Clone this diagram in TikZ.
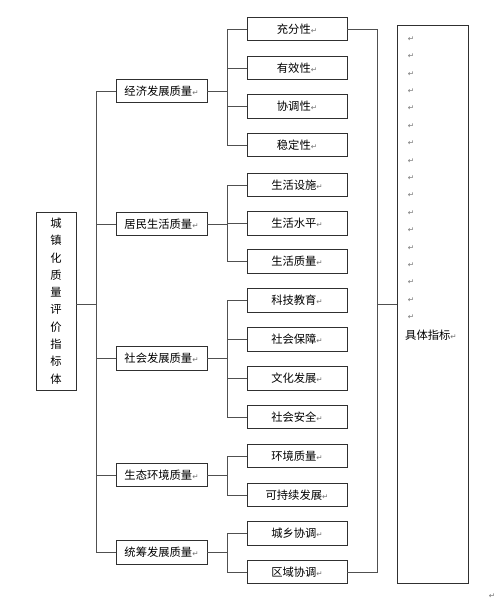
\documentclass[tikz,border=0pt]{standalone}
\usepackage{fontspec}
\newfontfamily\cjk{Noto Sans CJK SC}
\newfontfamily\dvs{DejaVu Sans}
\newcommand{\pmk}{{\dvs\fontsize{7.5}{7.5}\selectfont\textcolor{black!55}{↵}}}
\definecolor{ln}{HTML}{505050}
\definecolor{bx}{HTML}{303030}
\tikzset{
  box/.style={draw=bx, line width=0.9pt, fill=white, inner sep=0pt, font=\cjk\fontsize{11.3}{13}\selectfont},
  leaf/.style={box, minimum width=100pt, minimum height=23.5pt},
  mid/.style={box, minimum width=91pt, minimum height=23.5pt},
  conn/.style={draw=ln, line width=0.9pt},
  pm/.style={inner sep=0pt}
}
\begin{document}
\begin{tikzpicture}[x=1pt,y=-1pt]
\useasboundingbox (0,0) rectangle (502,600);
% root
\node[box, minimum width=40pt, minimum height=178pt, align=center, font=\cjk\fontsize{11.3}{17.3}\selectfont] (root) at (56,301)
  {城\\镇\\化\\质\\量\\评\\价\\指\\标\\体};
% mid boxes
\node[mid] (m1) at (161.5,91) {经济发展质量\pmk};
\node[mid] (m2) at (161.5,224) {居民生活质量\pmk};
\node[mid] (m3) at (161.5,358.5) {社会发展质量\pmk};
\node[mid] (m4) at (161.5,475) {生态环境质量\pmk};
\node[mid] (m5) at (161.5,552.5) {统筹发展质量\pmk};
% leaves
\node[leaf] (a1) at (297,29) {充分性\pmk};
\node[leaf] (a2) at (297,68) {有效性\pmk};
\node[leaf] (a3) at (297,106.5) {协调性\pmk};
\node[leaf] (a4) at (297,145) {稳定性\pmk};
\node[leaf] (a5) at (297,185) {生活设施\pmk};
\node[leaf] (a6) at (297,223.5) {生活水平\pmk};
\node[leaf] (a7) at (297,261.5) {生活质量\pmk};
\node[leaf] (a8) at (297,300.5) {科技教育\pmk};
\node[leaf] (a9) at (297,339.5) {社会保障\pmk};
\node[leaf] (a10) at (297,378.5) {文化发展\pmk};
\node[leaf] (a11) at (297,417) {社会安全\pmk};
\node[leaf] (a12) at (297,456) {环境质量\pmk};
\node[leaf] (a13) at (297,495) {可持续发展\pmk};
\node[leaf] (a14) at (297,533.5) {城乡协调\pmk};
\node[leaf] (a15) at (297,572) {区域协调\pmk};
% right box
\node[box, minimum width=71pt, minimum height=558pt] (R) at (432.5,304) {};
\foreach \i in {0,...,16} \node[pm] (p\i) at (411,39+17.4*\i) {\pmk};
\node[pm, anchor=west, font=\cjk\fontsize{11.3}{13}\selectfont] (spec) at (405,335) {具体指标\pmk};
\node[pm] (endmark) at (492,596) {\pmk};
% coordinates
\coordinate (tr) at (96,304);
\coordinate (s) at (227,0);
\coordinate (r) at (377,0);
% root trunk
\draw[conn] (root.east |- tr) -- (tr);
\draw[conn] (m1.west) -- (m1.west -| tr) -- (m5.west -| tr) -- (m5.west);
\foreach \m in {m2,m3,m4} \draw[conn] (\m.west) -- (\m.west -| tr);
% groups
\draw[conn] (a1.west) -- (a1.west -| s) -- (a4.west -| s) -- (a4.west);
\foreach \a in {a2,a3} \draw[conn] (\a.west) -- (\a.west -| s);
\draw[conn] (m1.east) -- (m1.east -| s);
\draw[conn] (a5.west) -- (a5.west -| s) -- (a7.west -| s) -- (a7.west);
\draw[conn] (a6.west) -- (a6.west -| s);
\draw[conn] (m2.east) -- (m2.east -| s);
\draw[conn] (a8.west) -- (a8.west -| s) -- (a11.west -| s) -- (a11.west);
\foreach \a in {a9,a10} \draw[conn] (\a.west) -- (\a.west -| s);
\draw[conn] (m3.east) -- (m3.east -| s);
\draw[conn] (a12.west) -- (a12.west -| s) -- (a13.west -| s) -- (a13.west);
\draw[conn] (m4.east) -- (m4.east -| s);
\draw[conn] (a14.west) -- (a14.west -| s) -- (a15.west -| s) -- (a15.west);
\draw[conn] (m5.east) -- (m5.east -| s);
% right bracket
\draw[conn] (a1.east) -- (a1.east -| r) -- (a15.east -| r) -- (a15.east);
\draw[conn] (R.west -| r) -- (R.west);
\end{tikzpicture}
\end{document}
